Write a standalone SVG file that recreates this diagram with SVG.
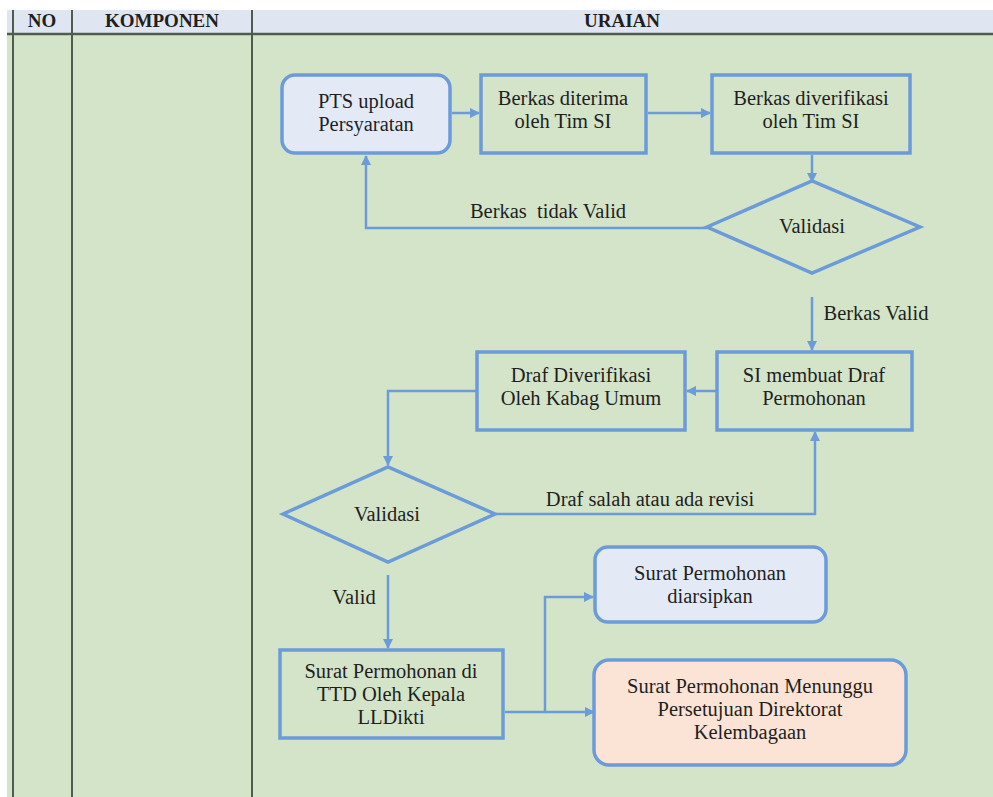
<svg xmlns="http://www.w3.org/2000/svg" width="993" height="797" viewBox="0 0 993 797">
<defs>
<style>
text{font-family:'Liberation Serif','Times New Roman',Times,serif;fill:#1f1f1f;text-anchor:middle}
.t{font-size:20.5px}
.h{font-size:19px;font-weight:bold}
.box{fill:none;stroke:#6b9bd8;stroke-width:3.5}
.rbox{fill:#e3eaf6;stroke:#6b9bd8;stroke-width:3.5}
.obox{fill:#fbe4d5;stroke:#6b9bd8;stroke-width:3.5}
.c{fill:none;stroke:#6b9bd8;stroke-width:2.5}
.col{stroke:#4f5b4f;stroke-width:2}
</style>
<marker id="ah" viewBox="0 0 10 10" refX="9" refY="5" markerWidth="4" markerHeight="4" orient="auto">
<path d="M0,0 L10,5 L0,10 z" fill="#6b9bd8"/>
</marker>
</defs>
<rect x="0" y="0" width="993" height="797" fill="#ffffff"/>
<rect x="7" y="10" width="986" height="24" fill="#dfe6f2"/>
<rect x="7" y="34" width="986" height="763" fill="#d4e4c9"/>
<g id="table">
<line class="col" x1="7" y1="34" x2="993" y2="34" style="stroke-width:2.5"/>
<line class="col" x1="13" y1="10" x2="13" y2="797"/>
<line class="col" x1="72" y1="10" x2="72" y2="797"/>
<line class="col" x1="252" y1="10" x2="252" y2="797"/>
<text class="h" x="42" y="27">NO</text>
<text class="h" x="162" y="27">KOMPONEN</text>
<text class="h" x="622" y="27">URAIAN</text>
</g>
<g id="connectors">
<line class="c" x1="452" y1="113" x2="479" y2="113" marker-end="url(#ah)"/>
<line class="c" x1="648" y1="113" x2="710" y2="113" marker-end="url(#ah)"/>
<line class="c" x1="812" y1="155" x2="812" y2="182" marker-end="url(#ah)"/>
<polyline class="c" points="707,228 366,228 366,156" marker-end="url(#ah)"/>
<line class="c" x1="812" y1="297" x2="812" y2="350" marker-end="url(#ah)"/>
<line class="c" x1="716" y1="391" x2="687" y2="391" marker-end="url(#ah)"/>
<polyline class="c" points="476,391 388,391 388,465" marker-end="url(#ah)"/>
<polyline class="c" points="496,514 815,514 815,432" marker-end="url(#ah)"/>
<line class="c" x1="388" y1="575" x2="388" y2="648" marker-end="url(#ah)"/>
<polyline class="c" points="505,712 545,712 545,597 593,597" marker-end="url(#ah)"/>
<line class="c" x1="545" y1="712" x2="594" y2="712" marker-end="url(#ah)"/>
<text class="t" x="548" y="218" xml:space="preserve">Berkas  tidak Valid</text>
<text class="t" x="876" y="320">Berkas Valid</text>
<text class="t" x="650" y="506">Draf salah atau ada revisi</text>
<text class="t" x="354" y="604">Valid</text>
</g>
<g id="n1">
<rect class="rbox" x="282" y="75" width="168" height="78" rx="13"/>
<text class="t" x="366" y="108">PTS upload</text>
<text class="t" x="366" y="131">Persyaratan</text>
</g>
<g id="n2">
<rect class="box" x="481" y="75" width="165" height="78"/>
<text class="t" x="563" y="105">Berkas diterima</text>
<text class="t" x="563" y="128">oleh Tim SI</text>
</g>
<g id="n3">
<rect class="box" x="712" y="75" width="198" height="78"/>
<text class="t" x="811" y="105">Berkas diverifikasi</text>
<text class="t" x="811" y="128">oleh Tim SI</text>
</g>
<g id="d1">
<polygon class="box" points="707,227 812,181 920,227 812,273"/>
<text class="t" x="812" y="233">Validasi</text>
</g>
<g id="n4">
<rect class="box" x="717" y="352" width="195" height="78"/>
<text class="t" x="814" y="382">SI membuat Draf</text>
<text class="t" x="814" y="405">Permohonan</text>
</g>
<g id="n5">
<rect class="box" x="477" y="352" width="208" height="78"/>
<text class="t" x="581" y="382">Draf Diverifikasi</text>
<text class="t" x="581" y="405">Oleh Kabag Umum</text>
</g>
<g id="d2">
<polygon class="box" points="283,514 388,467 495,514 388,562"/>
<text class="t" x="387" y="521">Validasi</text>
</g>
<g id="n6">
<rect class="box" x="280" y="650" width="223" height="88"/>
<text class="t" x="391" y="678">Surat Permohonan di</text>
<text class="t" x="391" y="701">TTD Oleh Kepala</text>
<text class="t" x="391" y="724">LLDikti</text>
</g>
<g id="n7">
<rect class="rbox" x="595" y="547" width="231" height="75" rx="13"/>
<text class="t" x="710" y="580">Surat Permohonan</text>
<text class="t" x="710" y="603">diarsipkan</text>
</g>
<g id="n8">
<rect class="obox" x="594" y="660" width="312" height="105" rx="15"/>
<text class="t" x="750" y="693">Surat Permohonan Menunggu</text>
<text class="t" x="750" y="716">Persetujuan Direktorat</text>
<text class="t" x="750" y="739">Kelembagaan</text>
</g>
</svg>
